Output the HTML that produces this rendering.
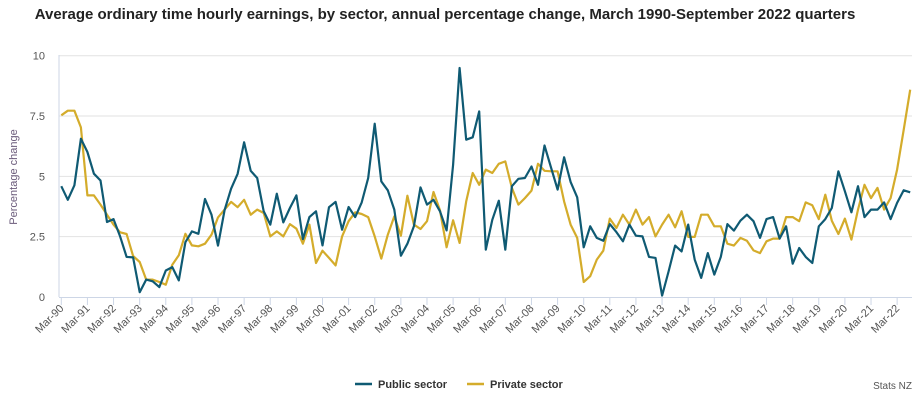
<!DOCTYPE html>
<html><head><meta charset="utf-8"><style>
body{margin:0;background:#fff;font-family:"Liberation Sans",sans-serif;}
svg text{font-family:"Liberation Sans",sans-serif;}
</style></head><body>
<svg width="924" height="407">
<text x="445" y="19" text-anchor="middle" font-size="15" font-weight="bold" fill="#222">Average ordinary time hourly earnings, by sector, annual percentage change, March 1990-September 2022 quarters</text>
<text transform="translate(17,177) rotate(-90)" text-anchor="middle" font-size="11" fill="#6a5a7a">Percentage change</text>
<g id="grid"></g><g id="xaxis"></g><g id="lines"></g>
<g>
<g><line x1="355" y1="384" x2="372" y2="384" stroke="#0f5a73" stroke-width="2.5"/><text x="378" y="388" font-size="11" font-weight="bold" fill="#333">Public sector</text></g>
<g><line x1="467" y1="384" x2="484" y2="384" stroke="#d4ac2b" stroke-width="2.5"/><text x="490" y="388" font-size="11" font-weight="bold" fill="#333">Private sector</text></g>
</g>
<text x="912" y="389" text-anchor="end" font-size="10" fill="#555">Stats NZ</text>
</svg>
<script>
const yTicks=[0,2.5,5,7.5,10];
const yTickLabels=["0","2.5","5","7.5","10"];
const years=["90","91","92","93","94","95","96","97","98","99","00","01","02","03","04","05","06","07","08","09","10","11","12","13","14","15","16","17","18","19","20","21","22"];
const publicSector=[4.59,4.03,4.63,6.56,6.01,5.11,4.83,3.11,3.23,2.51,1.66,1.64,0.2,0.72,0.65,0.41,1.1,1.24,0.69,2.27,2.72,2.62,4.06,3.41,2.13,3.6,4.49,5.1,6.41,5.23,4.93,3.55,3.0,4.28,3.09,3.69,4.21,2.40,3.31,3.55,2.14,3.72,3.94,2.79,3.73,3.31,3.92,4.93,7.18,4.79,4.42,3.62,1.71,2.21,2.93,4.54,3.83,4.03,3.55,2.76,5.48,9.49,6.52,6.62,7.69,1.96,3.2,3.99,1.96,4.59,4.9,4.93,5.41,4.65,6.28,5.37,4.45,5.79,4.77,4.13,2.06,2.93,2.45,2.33,3.02,2.69,2.31,3.0,2.54,2.51,1.66,1.62,0.06,1.06,2.13,1.89,3.0,1.55,0.79,1.82,0.93,1.66,3.02,2.75,3.16,3.41,3.14,2.45,3.23,3.31,2.42,2.93,1.38,2.03,1.66,1.41,2.93,3.23,3.69,5.21,4.38,3.51,4.59,3.31,3.62,3.62,3.92,3.23,3.9,4.42,4.34];
const privateSector=[7.53,7.72,7.72,7.03,4.21,4.21,3.83,3.41,3.0,2.68,2.61,1.70,1.45,0.72,0.72,0.62,0.51,1.34,1.73,2.62,2.14,2.1,2.21,2.58,3.3,3.62,3.94,3.72,4.03,3.41,3.62,3.48,2.51,2.72,2.51,3.02,2.83,2.21,3.0,1.41,1.92,1.62,1.31,2.51,3.14,3.51,3.44,3.31,2.51,1.59,2.58,3.34,2.54,4.2,3.0,2.82,3.14,4.35,3.59,2.06,3.18,2.24,3.96,5.14,4.65,5.28,5.14,5.52,5.62,4.52,3.83,4.1,4.41,5.52,5.23,5.21,5.21,3.96,3.0,2.45,0.62,0.86,1.55,1.92,3.25,2.86,3.41,3.0,3.62,3.0,3.31,2.51,3.0,3.41,2.89,3.55,2.49,2.49,3.41,3.41,2.93,2.93,2.21,2.13,2.45,2.33,1.93,1.82,2.31,2.42,2.42,3.31,3.31,3.14,3.92,3.8,3.23,4.24,3.16,2.61,3.25,2.38,3.62,4.65,4.1,4.52,3.62,4.1,5.28,6.93,8.59];
const NS="http://www.w3.org/2000/svg";
const X0=61.3,DX=6.53,Y0=297,YS=24.13;
const xs=i=>X0+i*DX, ys=v=>Y0-v*YS;
function mk(t,a,p){const e=document.createElementNS(NS,t);for(const k in a)e.setAttribute(k,a[k]);p.appendChild(e);return e;}
const g=document.getElementById('grid');
yTicks.forEach((v,k)=>{
 if(v>0){const l=mk('line',{x1:59,x2:912,y1:ys(v),y2:ys(v),stroke:'#e2e2e2','stroke-width':1},g);
 
 }
 const t=mk('text',{x:45,y:ys(v)+4,'text-anchor':'end','font-size':11,fill:'#555'},g);
 
 
 t.textContent=yTickLabels[k];
});
mk('line',{x1:59,x2:59,y1:55,y2:297,stroke:'#cdd6e6','stroke-width':1},g);
const xa=document.getElementById('xaxis');
mk('line',{x1:59,x2:912,y1:297.5,y2:297.5,stroke:'#cdd6e6','stroke-width':1},xa);
years.forEach((y,k)=>{
 const x=xs(k*4);
 mk('line',{x1:x,x2:x,y1:297,y2:305,stroke:'#cdd6e6','stroke-width':1},xa);
 const t=mk('text',{x:x+3,y:309,'text-anchor':'end','font-size':11,fill:'#555',transform:`rotate(-45 ${x+3} 309)`},xa);
 
 
 t.textContent='Mar-'+y;
});
const lg=document.getElementById('lines');
function series(arr,col,name){
 const d=arr.map((v,i)=>(i?'L':'M')+xs(i).toFixed(1)+','+ys(v).toFixed(1)).join('');
 const p=mk('path',{d:d,fill:'none',stroke:col,'stroke-width':2.2,'stroke-linejoin':'round'},lg);
 
 
}
series(privateSector,'#d4ac2b','private-sector-line');
series(publicSector,'#0f5a73','public-sector-line');
</script>
</body></html>
